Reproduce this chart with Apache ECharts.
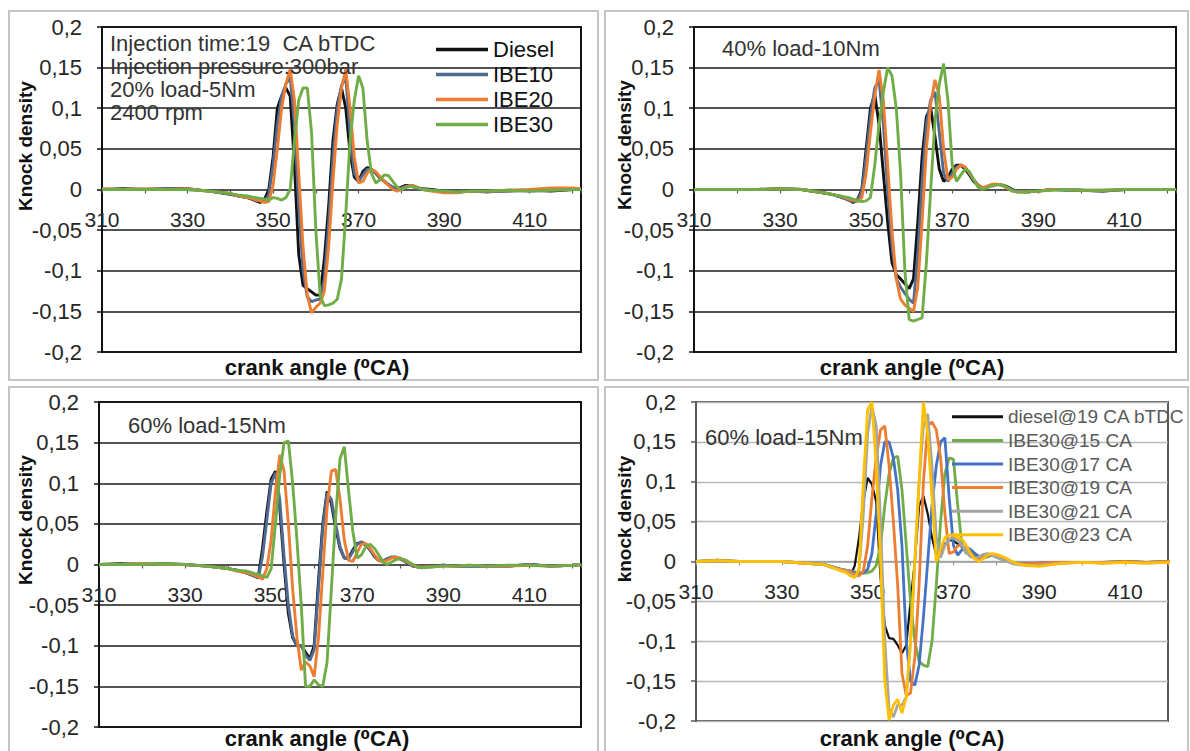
<!DOCTYPE html>
<html>
<head>
<meta charset="utf-8">
<script src="https://cdn.jsdelivr.net/npm/echarts@6/dist/echarts.min.js"></script>
<style>
html,body{margin:0;padding:0;background:#fff;}
#c{width:1190px;height:751px;}
</style>
</head>
<body>
<div id="c"></div>
<script>
// crank angle grid (deg)
const angle = [310,315,320,325,330,335,340,342,344,
  345,346,347,348,349,350,351,352,353,354,
  355,356,357,358,359,360,361,362,363,364,
  365,366,367,368,369,370,371,372,373,374,
  375,376,377,378,379,380,381,382,383,384,
  385,
  387,390,393,396,400,405,410,415,420,422];

const xTickLabels = [310,330,350,370,390,410];
const yTicks = [-0.2,-0.15,-0.1,-0.05,0,0.05,0.1,0.15,0.2];

// Panel 1: 20% load - 5Nm
const p1Diesel = [0,0.001,0,0.001,0.001,-0.002,-0.006,-0.008,-0.01,
  -0.012,-0.014,-0.016,-0.012,0.0,0.04,0.1,0.115,0.125,0.115,
  0.03,-0.08,-0.118,-0.122,-0.126,-0.13,-0.13,-0.085,-0.02,0.06,
  0.105,0.125,0.1,0.045,0.015,0.01,0.022,0.027,0.025,0.02,
  0.014,0.01,0.006,0.002,0.001,0.003,0.005,0.005,0.004,0.002,
  0.001,
  0,-0.002,-0.003,-0.002,-0.002,-0.002,-0.001,-0.002,0,0];
const p1IBE10 = [0,0,0,0.001,0,-0.002,-0.005,-0.008,-0.01,
  -0.011,-0.013,-0.014,-0.015,-0.006,0.03,0.08,0.115,0.13,0.138,
  0.08,-0.02,-0.1,-0.132,-0.138,-0.136,-0.135,-0.11,-0.04,0.04,
  0.1,0.128,0.138,0.07,0.02,0.01,0.018,0.025,0.024,0.02,
  0.015,0.01,0.006,0.003,0.001,0.002,0.004,0.004,0.003,0.001,
  0,
  -0.001,-0.002,-0.003,-0.002,-0.003,-0.001,-0.002,-0.001,0,0];
const p1IBE20 = [0.001,0,0.001,0,0.001,-0.002,-0.005,-0.008,-0.01,
  -0.011,-0.013,-0.014,-0.016,-0.015,0.005,0.05,0.1,0.13,0.148,
  0.11,0.02,-0.07,-0.13,-0.152,-0.145,-0.14,-0.125,-0.07,0.01,
  0.08,0.125,0.148,0.1,0.04,0.008,0.01,0.02,0.025,0.022,
  0.016,0.01,0.005,0,-0.002,0,0.003,0.005,0.004,0.002,
  0,
  -0.002,-0.004,-0.004,-0.002,-0.002,-0.001,0,0.002,0.002,0.001];
const p1IBE30 = [0,0,0,0,0,-0.002,-0.005,-0.007,-0.008,
  -0.009,-0.01,-0.011,-0.012,-0.013,-0.01,-0.011,-0.013,-0.01,0.0,
  0.06,0.11,0.125,0.125,0.07,-0.05,-0.13,-0.143,-0.142,-0.14,
  -0.135,-0.11,-0.03,0.06,0.11,0.14,0.125,0.06,0.02,0.008,
  0.012,0.018,0.017,0.01,0.003,0,0.002,0.004,0.003,0.002,
  0,
  -0.001,-0.002,-0.003,-0.002,-0.002,-0.001,-0.002,-0.001,0,0];

// Panel 2: 40% load - 10Nm
const p2Diesel = [0,0,0,0,0.001,0,-0.004,-0.006,-0.009,
  -0.011,-0.013,-0.016,-0.012,0.0,0.05,0.1,0.117,0.08,0.02,
  -0.04,-0.09,-0.105,-0.11,-0.116,-0.122,-0.11,-0.04,0.04,0.09,
  0.1,0.065,0.025,0.01,0.015,0.025,0.03,0.03,0.025,0.018,
  0.01,0.005,0.002,0.003,0.005,0.006,0.006,0.005,0.003,0,
  -0.002,
  -0.003,-0.002,0,0,-0.001,-0.002,0,0,0,0];
const p2IBE10 = [0,0,0,0,0.001,0,-0.004,-0.006,-0.009,
  -0.011,-0.013,-0.015,-0.013,-0.002,0.04,0.09,0.125,0.135,0.08,
  0.0,-0.07,-0.11,-0.12,-0.128,-0.135,-0.14,-0.08,0.01,0.08,
  0.11,0.12,0.07,0.02,0.01,0.02,0.028,0.03,0.027,0.02,
  0.012,0.006,0.002,0.003,0.005,0.006,0.006,0.004,0.002,0,
  -0.002,
  -0.003,-0.002,0,-0.001,-0.001,-0.002,0,0,0,0];
const p2IBE20 = [0,0,0,0,0.001,0,-0.004,-0.006,-0.008,
  -0.01,-0.012,-0.013,-0.015,-0.01,0.02,0.07,0.115,0.147,0.11,
  0.03,-0.05,-0.11,-0.135,-0.142,-0.146,-0.15,-0.12,-0.04,0.05,
  0.105,0.135,0.115,0.05,0.012,0.015,0.025,0.03,0.028,0.02,
  0.012,0.005,0.002,0.004,0.006,0.007,0.006,0.004,0.001,-0.002,
  -0.003,
  -0.003,-0.002,0,0,-0.001,-0.001,0,0,0,0];
const p2IBE30 = [0,0,0,0,0.001,0,-0.004,-0.006,-0.008,
  -0.009,-0.01,-0.012,-0.013,-0.015,-0.014,-0.01,0.03,0.08,0.12,
  0.15,0.14,0.1,0.02,-0.1,-0.16,-0.162,-0.16,-0.158,-0.09,
  0.0,0.085,0.13,0.155,0.11,0.03,0.01,0.018,0.025,0.022,
  0.012,0.003,0,0.002,0.004,0.005,0.006,0.005,0.002,-0.002,
  -0.003,
  -0.003,-0.002,-0.001,0,-0.001,-0.001,0,0,0,0];

// Panel 3: 60% load - 15Nm
const p3Diesel = [0,0.001,0,0.001,0,-0.002,-0.005,-0.007,-0.01,
  -0.012,-0.014,-0.016,0.02,0.065,0.105,0.115,0.07,0.0,-0.06,
  -0.09,-0.1,-0.1,-0.108,-0.116,-0.1,-0.02,0.05,0.09,0.075,
  0.045,0.02,0.008,0.008,0.018,0.026,0.027,0.024,0.018,0.01,
  0.005,0.004,0.007,0.009,0.009,0.007,0.004,0.001,-0.002,-0.003,
  -0.003,
  -0.002,-0.001,-0.002,-0.002,-0.002,-0.002,0,-0.002,-0.001,0];
const p3IBE10 = [0,0,0.001,0,0,-0.002,-0.005,-0.007,-0.01,
  -0.012,-0.014,-0.017,0.01,0.055,0.1,0.113,0.08,0.01,-0.05,
  -0.088,-0.1,-0.1,-0.112,-0.118,-0.105,-0.03,0.045,0.088,0.08,
  0.05,0.022,0.008,0.007,0.016,0.025,0.028,0.025,0.018,0.011,
  0.005,0.004,0.007,0.009,0.009,0.007,0.004,0.001,-0.002,-0.003,
  -0.003,
  -0.002,-0.001,-0.002,-0.002,-0.002,-0.002,0,-0.002,-0.001,0];
const p3IBE20 = [0,0,0.001,0,0,-0.002,-0.005,-0.008,-0.01,
  -0.011,-0.013,-0.015,-0.018,-0.005,0.03,0.09,0.135,0.115,0.05,
  -0.03,-0.09,-0.13,-0.12,-0.125,-0.138,-0.09,-0.01,0.07,0.115,
  0.117,0.08,0.03,0.005,0.004,0.015,0.025,0.026,0.02,0.012,
  0.005,0.003,0.005,0.008,0.009,0.008,0.005,0.002,-0.001,-0.003,
  -0.003,
  -0.003,-0.002,-0.002,-0.001,-0.002,-0.002,-0.001,-0.002,-0.001,0];
const p3IBE30 = [0,0,0,0.001,0,-0.002,-0.005,-0.007,-0.008,
  -0.009,-0.011,-0.012,-0.014,-0.016,-0.005,0.05,0.11,0.15,0.152,
  0.1,0.03,-0.05,-0.15,-0.15,-0.142,-0.148,-0.15,-0.12,-0.03,
  0.06,0.13,0.145,0.09,0.04,0.008,0.012,0.022,0.025,0.02,
  0.012,0.003,0,0.003,0.006,0.007,0.006,0.003,0,-0.003,
  -0.004,
  -0.003,-0.002,-0.002,-0.001,-0.002,-0.001,-0.001,-0.002,-0.001,0];

// Panel 4: 60% load - 15Nm, injection timing
const p4Diesel19 = [0,0.002,0,0,0,-0.002,-0.004,-0.008,-0.012,
  -0.012,-0.018,-0.005,0.03,0.075,0.105,0.097,0.075,-0.02,-0.08,
  -0.096,-0.097,-0.105,-0.115,-0.105,-0.05,0.0,0.07,0.082,0.06,
  0.03,0.008,0.012,0.022,0.027,0.026,0.022,0.018,0.014,0.01,
  0.006,0.004,0.006,0.008,0.008,0.007,0.005,0.003,0,-0.002,
  -0.003,
  -0.003,-0.002,-0.001,-0.002,-0.001,-0.002,0,-0.001,0,0];
const p4IBE30at15 = [0,0.001,0,0,0,-0.002,-0.004,-0.007,-0.01,
  -0.011,-0.012,-0.013,-0.014,-0.015,-0.014,-0.012,-0.005,0.02,0.07,
  0.11,0.13,0.132,0.09,0.02,-0.05,-0.1,-0.125,-0.13,-0.132,
  -0.1,-0.03,0.05,0.11,0.13,0.128,0.07,0.02,0.01,0.012,
  0.01,0.006,0.004,0.006,0.008,0.007,0.005,0.003,0.001,-0.001,
  -0.002,
  -0.003,-0.002,-0.001,-0.001,-0.001,-0.001,0,-0.001,0,0];
const p4IBE30at17 = [0,0.001,0,0,0,-0.002,-0.004,-0.007,-0.01,
  -0.011,-0.012,-0.014,-0.015,-0.014,-0.01,0.01,0.06,0.12,0.15,
  0.15,0.13,0.09,0.02,-0.1,-0.15,-0.155,-0.13,-0.07,0.0,
  0.07,0.12,0.15,0.155,0.08,0.02,0.008,0.015,0.018,0.015,
  0.01,0.006,0.005,0.007,0.008,0.007,0.005,0.002,0,-0.002,
  -0.003,
  -0.003,-0.002,-0.001,-0.001,-0.001,-0.001,0,-0.001,0,0];
const p4IBE30at19 = [0,0.001,0,0,0,-0.002,-0.004,-0.008,-0.01,
  -0.011,-0.013,-0.016,-0.018,-0.012,0.02,0.08,0.13,0.165,0.17,
  0.12,0.05,-0.03,-0.14,-0.168,-0.165,-0.12,-0.03,0.1,0.17,
  0.175,0.165,0.13,0.06,0.01,0.012,0.02,0.02,0.015,0.01,
  0.005,0.003,0.006,0.008,0.008,0.006,0.004,0.002,0,-0.002,
  -0.003,
  -0.003,-0.002,-0.001,-0.001,-0.001,-0.001,0,-0.001,0,0];
const p4IBE30at21 = [0,0.001,0,0,0,-0.002,-0.004,-0.008,-0.011,
  -0.012,-0.016,-0.02,-0.01,0.06,0.16,0.195,0.17,0.05,-0.1,
  -0.185,-0.195,-0.18,-0.18,-0.17,-0.1,0.0,0.1,0.17,0.185,
  0.12,0.03,0.005,0.02,0.028,0.03,0.027,0.02,0.012,0.006,
  0.004,0.006,0.009,0.01,0.008,0.005,0.003,0.001,-0.001,-0.003,
  -0.004,
  -0.005,-0.005,-0.003,-0.002,-0.001,-0.002,-0.001,-0.002,-0.001,0];
const p4IBE30at23 = [0,0.001,0,0,0,-0.002,-0.004,-0.008,-0.012,
  -0.014,-0.018,-0.02,-0.01,0.1,0.19,0.2,0.12,0.0,-0.15,
  -0.199,-0.18,-0.173,-0.19,-0.17,-0.1,0.0,0.1,0.2,0.16,
  0.08,0.0,0.015,0.03,0.033,0.033,0.03,0.028,0.02,0.01,
  0.003,0.0,0.004,0.008,0.01,0.009,0.007,0.005,0.002,-0.001,
  -0.003,
  -0.005,-0.006,-0.004,-0.002,-0.001,-0.002,-0.001,-0.002,-0.001,0];

const seriesNames1 = ['Diesel','IBE10','IBE20','IBE30'];
const seriesNames4 = ['diesel@19 CA bTDC','IBE30@15 CA','IBE30@17 CA','IBE30@19 CA','IBE30@21 CA','IBE30@23 CA'];

const FONT = '"Liberation Sans", Arial, "DejaVu Sans", sans-serif';
const colors1 = ['#111111','#4f6b94','#ed7d31','#70ad47'];
const colors4 = ['#111111','#70ad47','#4472c4','#ed7d31','#a5a5a5','#ffc000'];

const grids = [
  {left:102, top:27, width:479, height:325},
  {left:694, top:27, width:482, height:325},
  {left:99, top:402, width:482, height:325},
  {left:696, top:402, width:472, height:319}
];

function fmtY(v){
  const r = Math.round(v*100)/100;
  return String(r).replace('.', ',');
}
function fmtX(v){
  return xTickLabels.indexOf(Math.round(v)) >= 0 ? String(Math.round(v)) : '';
}

const xAxes = [], yAxes = [];
grids.forEach((g, i) => {
  const light = (i === 3);
  const gridCol = light ? '#b8b8b8' : '#1a1a1a';
  const axCol = light ? '#595959' : '#111111';
  xAxes.push({
    gridIndex:i, type:'value', min:310, max: light ? 420 : 422, interval:10,
    position:'bottom', offset: -g.height/2,
    axisLine:{show:true, onZero:false, lineStyle:{color: light ? '#9a9a9a' : '#555555', width:1.5}},
    axisTick:{show:true, length:4, lineStyle:{color: light ? '#9a9a9a' : '#555555', width:1.2}},
    axisLabel:{margin:19, fontSize:21, color:'#262626', fontFamily:FONT, formatter:fmtX, showMinLabel:true, showMaxLabel:true},
    splitLine:{show:false}
  });
  yAxes.push({
    gridIndex:i, type:'value', min:-0.2, max:0.2, interval:0.05,
    axisLine:{show:true, onZero:false, lineStyle:{color:axCol, width:2}},
    axisTick:{show:true, length:5, lineStyle:{color:axCol, width:1.5}},
    axisLabel:{margin:20, fontSize:22, color:'#262626', fontFamily:FONT, formatter:fmtY},
    splitLine:{show:true, lineStyle:{color:gridCol, width: light ? 1.3 : 1.5}}
  });
});

function mk(name, arr, color, gi, w){
  return {
    name:name, type:'line', xAxisIndex:gi, yAxisIndex:gi,
    data: angle.map((a, k) => [a, arr[k]]),
    showSymbol:false, symbol:'none', smooth:false,
    lineStyle:{color:color, width:w}, itemStyle:{color:color},
    emphasis:{disabled:true}, animation:false
  };
}

const panelData = [
  [p1Diesel, p1IBE10, p1IBE20, p1IBE30],
  [p2Diesel, p2IBE10, p2IBE20, p2IBE30],
  [p3Diesel, p3IBE10, p3IBE20, p3IBE30]
];
const series = [];
panelData.forEach((set, gi) => {
  set.forEach((arr, k) => series.push(mk(seriesNames1[k], arr, colors1[k], gi, 2.9)));
});
[p4Diesel19, p4IBE30at15, p4IBE30at17, p4IBE30at19, p4IBE30at21, p4IBE30at23].forEach((arr, k) => {
  series.push(mk(seriesNames4[k], arr, colors4[k], 3, k === 0 ? 2.2 : 2.8));
});

function txt(x, y, s, size, opts){
  opts = opts || {};
  return {
    type:'text', x:x, y:y, rotation: opts.rot || 0, z:100,
    style:{
      text:s, fontSize:size, fontWeight: opts.bold ? 'bold' : 'normal', fontFamily:FONT,
      fill: opts.fill || '#333333',
      textAlign: opts.align || 'left', align: opts.align || 'left',
      textVerticalAlign:'middle', verticalAlign:'middle'
    }
  };
}
function frame(x, y, w, h){
  return {type:'rect', z:0, shape:{x:x, y:y, width:w, height:h}, style:{fill:'none', stroke:'#c4c4c4', lineWidth:2}};
}

const graphic = [
  frame(9, 11, 589, 369), frame(605, 11, 583, 369),
  frame(9, 387, 589, 372), frame(605, 387, 583, 372),
  // annotations
  txt(110, 43, 'Injection time:19  CA bTDC', 22),
  txt(110, 66, 'Injection pressure:300bar', 22),
  txt(110, 89, '20% load-5Nm', 22),
  txt(110, 112, '2400 rpm', 22),
  txt(722, 48, '40% load-10Nm', 22),
  txt(128, 425, '60% load-15Nm', 22),
  txt(705, 437, '60% load-15Nm', 22),
  // axis titles
  txt(25, 146, 'Knock density', 19, {bold:true, rot:Math.PI/2, align:'center', fill:'#111'}),
  txt(624, 145, 'Knock density', 19, {bold:true, rot:Math.PI/2, align:'center', fill:'#111'}),
  txt(25, 520, 'Knock density', 19, {bold:true, rot:Math.PI/2, align:'center', fill:'#111'}),
  txt(624, 519, 'knock density', 19, {bold:true, rot:Math.PI/2, align:'center', fill:'#111'}),
  txt(317, 367, 'crank angle (\u2070CA)', 22, {bold:true, align:'center', fill:'#111'}),
  txt(912, 367, 'crank angle (\u2070CA)', 22, {bold:true, align:'center', fill:'#111'}),
  txt(317, 738, 'crank angle (\u2070CA)', 22, {bold:true, align:'center', fill:'#111'}),
  txt(912, 738, 'crank angle (\u2070CA)', 22, {bold:true, align:'center', fill:'#111'})
];

const legends = [
  {
    data: seriesNames1, orient:'vertical', left:436, top:37, padding:0, itemGap:0,
    icon:'rect', itemWidth:52, itemHeight:3.5,
    textStyle:{fontSize:22, color:'#111', fontFamily:FONT, lineHeight:25},
    selectedMode:false
  },
  {
    data: seriesNames4, orient:'vertical', left:952, top:405, padding:0, itemGap:0,
    icon:'rect', itemWidth:51, itemHeight:3,
    textStyle:{fontSize:19, color:'#595959', fontFamily:FONT, lineHeight:23.6},
    selectedMode:false
  }
];

const chart = echarts.init(document.getElementById('c'), null, {renderer:'svg', width:1190, height:751});
chart.setOption({
  animation:false,
  backgroundColor:'#ffffff',
  grid: grids.map((g, i) => Object.assign({show:true, borderColor: i===3 ? '#595959' : '#111111', borderWidth:2, backgroundColor:'transparent', containLabel:false, outerBoundsMode:'none'}, g)),
  xAxis: xAxes,
  yAxis: yAxes,
  legend: legends,
  series: series,
  graphic: graphic
});
</script>
</body>
</html>
